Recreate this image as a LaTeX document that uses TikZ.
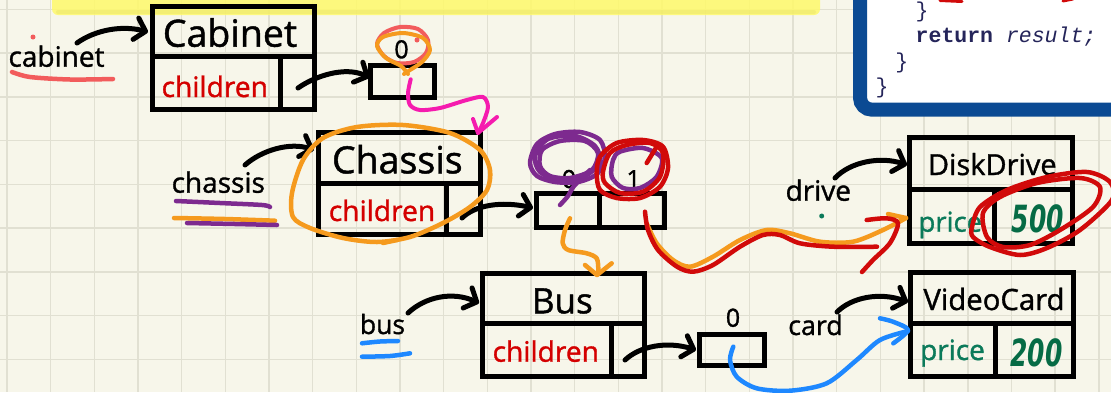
\documentclass[tikz,border=0pt]{standalone}
\usepackage{fontspec}
\usepackage{graphicx}
\usetikzlibrary{arrows.meta}
\newfontfamily\handfont[FakeBold=1.2]{Open Sans}
\newfontfamily\codefont{Liberation Mono}
\newfontfamily\digitfont{DejaVu Sans}

\definecolor{paper}{HTML}{F7F6EA}
\definecolor{gridc}{HTML}{E1E0D2}
\definecolor{hilite}{HTML}{FFF96A}
\definecolor{panelblue}{HTML}{0B4A93}
\definecolor{codeink}{HTML}{25255A}
\definecolor{fieldred}{HTML}{D40000}
\definecolor{fieldgreen}{HTML}{0B7A5A}
\definecolor{valgreen}{HTML}{066B45}
\definecolor{salmon}{HTML}{F25C5C}
\definecolor{orangeink}{HTML}{F59A1E}
\definecolor{magentaink}{HTML}{F51BAE}
\definecolor{purpleink}{HTML}{7D2A8F}
\definecolor{redink}{HTML}{D10A0A}
\definecolor{blueink}{HTML}{1E88FF}

\tikzset{
  gridline/.style={draw=gridc, line width=1.5pt},
  objbox/.style={draw=black, line width=5pt, rectangle, inner sep=0pt, outer sep=0pt},
  boxrule/.style={draw=black, line width=5pt},
  ptr/.style={draw=black, line width=5pt, line cap=round, line join=round,
              -{Straight Barb[length=10pt,width=22pt,line cap=round,line join=round]}},
  ink/.style={line width=4.5pt, line cap=round, line join=round},
  txt/.style={inner sep=0pt, anchor=base},
  hdrbig/.style={txt, font=\handfont\fontsize{37.5}{40}\selectfont},
  hdrsmall/.style={txt, font=\handfont\fontsize{29}{32}\selectfont},
  fieldtxt/.style={txt, text=fieldred, font=\handfont\fontsize{28.2}{30}\selectfont},
  pricetxt/.style={txt, text=fieldgreen, font=\handfont\fontsize{27.5}{30}\selectfont},
  lbl/.style={txt, font=\handfont\fontsize{28}{30}\selectfont},
  idx/.style={txt, font=\handfont\fontsize{25}{27}\selectfont},
  valtxt/.style={inner sep=0pt, text=valgreen, font=\digitfont\bfseries\itshape\fontsize{25}{27}\selectfont},
  codetxt/.style={inner sep=0pt, anchor=base west, text=codeink, font=\codefont\fontsize{21.5}{24}\selectfont},
}

% object box: name, left, top, right, header rule y, bottom, field split x
\newcommand\objectbox[7]{%
  \node[objbox, minimum width={(#4-#2)*1pt}, minimum height={(#6-#3)*1pt}]
    (#1) at ({(#2+#4)/2},{(#3+#6)/2}) {};
  \draw[boxrule] (#2,#5) -- (#4,#5);
  \draw[boxrule] (#7,#5) -- (#7,#6);
}

\begin{document}
\begin{tikzpicture}[x=1pt,y=-1pt]
\useasboundingbox (0,0) rectangle (1111,392);
\fill[paper] (0,0) rectangle (1111,392);

% squared paper
\foreach \i in {0,...,25} \draw[gridline] ({7+43.67*\i},0) -- ({7+43.67*\i},392);
\foreach \j in {0,...,8} \draw[gridline] (0,{9.45+43.75*\j}) -- (1111,{9.45+43.75*\j});

% highlighter band along the top
\fill[hilite, opacity=0.85, rounded corners=6pt] (52,-12) rectangle (820,15);
\draw[hilite!85!black, opacity=0.25, line width=4pt, line cap=round] (58,12) -- (814,12);

% code panel
\draw[panelblue, line width=14pt, fill=white, rounded corners=12pt] (860,-30) rectangle (1140,109.7);
\node[codetxt] (brA) at (915.3,17.5) {\}};
\node[codetxt] (ret) at (915.5,42.7) {\bfseries return\mdseries{} \itshape result;};
\node[codetxt] (brB) at (895.2,68.5) {\}};
\node[codetxt] (brC) at (875.3,93.5) {\}};
\draw[redink, line width=3pt, line cap=round] (940,0.5) -- (962,1.5);
\draw[redink, line width=3pt, line cap=round] (1063,1) -- (1073,-1);

% objects
\objectbox{cab}{152}{6}{314}{56.5}{109.5}{280}
\objectbox{chs}{318}{132.5}{480.5}{183.5}{234}{446.5}
\objectbox{bus}{482.5}{273.5}{644}{323.5}{376.8}{611}
\objectbox{dsk}{909.5}{137.8}{1072.5}{189.7}{243.8}{994.2}
\objectbox{vid}{910.5}{272.5}{1073}{323.5}{376.7}{995.8}

% children arrays
\node[objbox, minimum width=64pt, minimum height=31.5pt] (cabarr) at (402,81.25) {};
\node[objbox, minimum width=127.5pt, minimum height=33.5pt] (chsarr) at (600.25,210.25) {};
\draw[boxrule] (599.5,193.5) -- (599.5,227);
\node[objbox, minimum width=65pt, minimum height=31.8pt] (busarr) at (731.5,349.9) {};

% texts
\node[hdrbig] (cabT) at (230,46.7) {Cabinet};
\node[fieldtxt] (cabF) at (214.8,97) {children};
\node[lbl] (cabL) at (56.5,66.7) {cabinet};
\node[hdrbig] (chsT) at (397.3,173.3) {Chassis};
\node[fieldtxt] (chsF) at (382,221) {children};
\node[lbl] (chsL) at (218.3,192.7) {chassis};
\node[hdrbig, font=\handfont\fontsize{35}{38}\selectfont] (busT) at (562.3,313.3) {Bus};
\node[fieldtxt] (busF) at (545.8,361.7) {children};
\node[lbl, font=\handfont\fontsize{26.5}{28}\selectfont] (busL) at (382.5,334) {bus};
\node[hdrsmall] (dskT) at (992.3,175) {DiskDrive};
\node[pricetxt] (dskF) at (950.3,231.7) {price};
\node[lbl] (dskL) at (818.3,200.7) {drive};
\node[hdrsmall, font=\handfont\fontsize{29.3}{32}\selectfont] (vidT) at (994,310) {VideoCard};
\node[pricetxt, font=\handfont\fontsize{28}{30}\selectfont] (vidF) at (952.5,360) {price};
\node[lbl, font=\handfont\fontsize{26.8}{29}\selectfont] (vidL) at (815.5,335) {card};
\node[valtxt] (dskV) at (1038,219) {\scalebox{1}[1.5]{500}};
\node[valtxt] (vidV) at (1036.5,352.5) {\scalebox{1}[1.5]{200}};
\node[idx] (cab0) at (401.5,58.3) {0};
\node[idx] (chs0) at (569,188) {0};
\node[idx] (chs1) at (633.5,188) {1};
\node[idx] (bus0) at (733,326.7) {0};

% reference arrows
\coordinate (cabLo) at (77,43);   \coordinate (cabIn) at (148,32);
\coordinate (cabFo) at (298,88);  \coordinate (cabArrIn) at (369.5,77.5);
\coordinate (chsLo) at (245,165); \coordinate (chsIn) at (314,150);
\coordinate (chsFo) at (462,218); \coordinate (chsArrIn) at (533,208);
\coordinate (dskLo) at (835,178); \coordinate (dskIn) at (907,165);
\coordinate (busLo) at (408,313); \coordinate (busIn) at (479,303);
\coordinate (busFo) at (625,360); \coordinate (busArrIn) at (696,350);
\coordinate (vidLo) at (837,312); \coordinate (vidIn) at (908,302);
\draw[ptr] (cabLo) .. controls (95,30) and (122,25) .. (cabIn);
\draw[ptr] (cabFo) .. controls (315,76) and (345,66) .. (cabArrIn);
\draw[ptr] (chsLo) .. controls (262,150) and (290,142) .. (chsIn);
\draw[ptr] (chsFo) .. controls (475,205) and (502,201) .. (chsArrIn);
\draw[ptr] (dskLo) .. controls (850,162) and (880,156) .. (dskIn);
\draw[ptr] (busLo) .. controls (425,297) and (452,291) .. (busIn);
\draw[ptr] (busFo) .. controls (640,346) and (667,341) .. (busArrIn);
\draw[ptr] (vidLo) .. controls (852,297) and (880,292) .. (vidIn);

% ---- ink marks ----
% cabinet
\draw[ink, salmon] plot[smooth] coordinates {(12,72) (30,77) (70,79.5) (113,79)};
\fill[salmon] (33,37) circle (2.5);
\draw[ink, salmon, line width=4pt] plot[smooth cycle] coordinates {(377,44) (384,33) (400,27) (418,29) (428,40) (426,53) (414,62) (397,63) (384,56)};
\draw[ink, orangeink, line width=4pt] plot[smooth] coordinates {(408,74) (401,66) (386,58) (377,46) (383,37) (403,33) (423,38) (430,50) (422,62) (410,70) (404,74)};
\fill[salmon] (417,40) circle (2.5);
\draw[ink, magentaink, line width=4pt] plot[smooth] coordinates {(410.7,79.3) (408,93) (410,105) (420,110) (440,108) (466.7,100) (483,97) (488,107) (483,123) (478,133)};
\draw[ink, magentaink, line width=4pt] (473,119) -- (478,133) -- (497,117);

% chassis
\draw[ink, orangeink] plot[smooth cycle] coordinates {(292,193) (303,160) (323,138) (357,127) (403,125) (450,133) (480,150) (490,170) (487,190) (470,207) (443,223) (410,237) (377,242) (343,238) (310,228) (293,217)};
\draw[ink, orangeink] (383,243) -- (397,240);
\draw[ink, purpleink] plot[smooth] coordinates {(176,201) (220,203) (262,205) (270,207)};
\draw[ink, orangeink] plot[smooth] coordinates {(174,218) (225,219) (275,220.7)};
\draw[ink, purpleink] plot[smooth] coordinates {(187,223) (235,224) (277,225)};

% index scribbles
\draw[ink, purpleink] plot[smooth cycle] coordinates {(530,163) (537,144) (555,134) (580,132) (600,140) (605,158) (597,174) (578,182) (555,182) (537,176)};
\draw[ink, purpleink] plot[smooth cycle] coordinates {(540,166) (542,150) (560,141) (585,141) (598,153) (592,170) (570,178) (550,176)};
\draw[ink, purpleink] plot[smooth cycle] coordinates {(535,156) (548,139) (575,136) (595,146) (600,162) (585,176) (560,180) (540,172)};
\draw[ink, purpleink] plot[smooth] coordinates {(560,205) (568,196) (574,186) (590,170)};
\draw[ink, purpleink] plot[smooth cycle] coordinates {(613,160) (620,151.7) (643,148) (661.7,158) (656.7,176.7) (640,188) (623,188) (611.7,176.7)};
\draw[ink, redink] plot[smooth cycle] coordinates {(596.7,173) (600,156.7) (616.7,143) (643,140) (663,146.7) (668,168) (660,186.7) (640,198) (616.7,198) (600,190)};
\draw[ink, redink] plot[smooth cycle] coordinates {(603,171.7) (610,153) (626.7,145) (650,143) (663,153) (660,176.7) (643,191.7) (620,193) (605,183)};
\draw[ink, redink] (646.7,163) -- (656.7,146.7);

% element 1 to the disk drive price
\draw[ink, orangeink] plot[smooth] coordinates {(646.7,223.3) (656.7,243.3) (673,260) (690,266.7) (713,256.7) (740,240) (766.7,230) (790,233.3) (820,241.7) (853,241.7) (883,230) (906,218)};
\draw[ink, orangeink] (888,214) -- (906,218);
\draw[ink, redink] plot[smooth] coordinates {(645,211.7) (648,230) (658,250) (677,266.7) (693,271.7) (713,265) (740,246.7) (763,235) (780,235) (800,243.3) (833,246.7) (877,246.7)};
\draw[ink, redink] plot[smooth] coordinates {(866.7,220) (886.7,218.3) (898,223.3) (890,243) (873,260) (862,272)};
\fill[fieldgreen] (821.7,216) circle (2.5);
\draw[ink, redink] plot[smooth cycle] coordinates {(972,227) (980,207) (1007,190) (1047,177) (1087,172) (1110,182) (1112,200) (1080,230) (1047,248) (1020,255) (990,247) (973,237)};
\draw[ink, redink] plot[smooth cycle] coordinates {(983,213) (1000,197) (1037,183) (1080,178) (1100,187) (1093,207) (1060,230) (1030,245) (1003,247) (987,237)};

% element 0 down to the bus
\draw[ink, orangeink] plot[smooth] coordinates {(570,218.3) (565,230) (562.7,243.3) (568.3,250) (586.7,253.3) (596.7,258.3) (598.3,270) (597,275)};
\draw[ink, orangeink] (585,265) -- (597,275) -- (611.7,263.3);

% bus
\draw[ink, blueink] plot[smooth] coordinates {(362,343.3) (380,341.5) (398,341)};
\draw[ink, blueink] plot[smooth] coordinates {(362,356.7) (390,356) (410,353.3)};
\draw[ink, blueink] plot[smooth] coordinates {(733.3,346.7) (730,360) (736.7,376.7) (756.7,388.3) (790,390.7) (826.7,383.3) (856.7,360) (880,340) (908,331)};
\draw[ink, blueink] plot[smooth] coordinates {(880,318.3) (893,321.7) (908,330) (893.3,343.3)};
\end{tikzpicture}
\end{document}
